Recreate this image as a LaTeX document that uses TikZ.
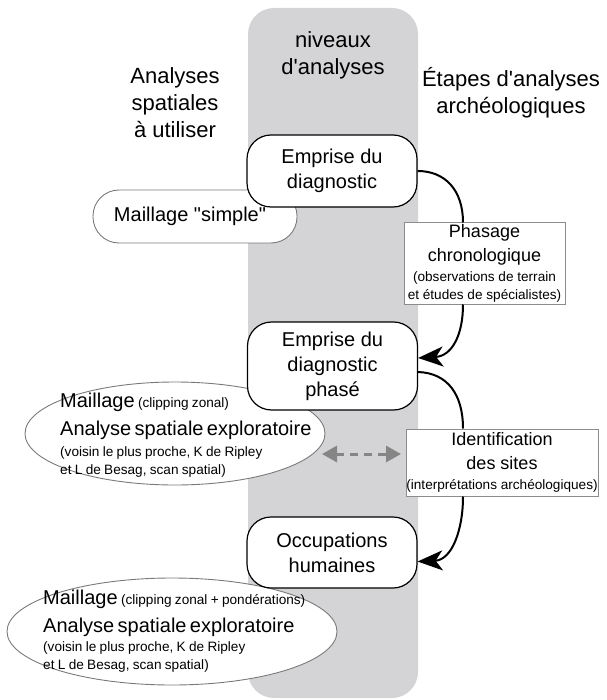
\documentclass[tikz,border=0pt]{standalone}
\usepackage{fontspec}
\setmainfont{Liberation Sans}[Ligatures=TeXOff]
\usetikzlibrary{arrows.meta,shapes.geometric}
\setlength{\parindent}{0pt}
\definecolor{colgray}{HTML}{D4D4D6}
\definecolor{edgegray}{HTML}{7A7A7A}
\definecolor{boxgray}{HTML}{8C8C8C}
\definecolor{dashgray}{HTML}{858585}
\newcommand{\bigf}{\fontsize{20}{25}\selectfont}
\newcommand{\ellf}{\fontsize{20}{28}\selectfont}
\newcommand{\midf}{\fontsize{18}{23.5}\selectfont}
\newcommand{\smf}{\fontsize{13.6}{18}\selectfont}
\newcommand{\ttlf}{\fontsize{22}{27}\selectfont}
\newcommand{\ctr}{\leftskip=0pt plus 1fil\rightskip=0pt plus 1fil\parfillskip=0pt\spaceskip=0pt\xspaceskip=0pt\relax}
\newcommand{\lft}{\leftskip=0pt\rightskip=0pt plus 1fil\parfillskip=0pt\relax}
\begin{document}
\begin{tikzpicture}[x=1pt,y=-1pt,
  lvl/.style={draw=black,line width=1.2pt,fill=white,rounded corners=24pt,minimum width=170pt,align=center,font=\bigf,inner sep=0pt},
  mell/.style={ellipse,draw=edgegray,line width=0.9pt,fill=white,inner sep=0pt},
  stepbox/.style={draw=boxgray,line width=1pt,fill=white,inner sep=0pt},
  elltext/.style={anchor=west,inner sep=0pt,text width=290pt},
  flow/.style={line width=2pt,black},
  tip/.style={-{Stealth[length=25pt,width=20pt,inset=7pt]}},
  ttl/.style={align=center,font=\ttlf,inner sep=0pt},
  dasharrow/.style={dashgray,line width=3pt,dash pattern=on 8pt off 6pt,{Triangle[length=15pt,width=16pt]}-{Triangle[length=15pt,width=16pt]}}
]
\useasboundingbox (0,0) rectangle (606,700);
\node[fill=colgray,rounded corners=26pt,minimum width=170pt,minimum height=690pt,inner sep=0pt] (col) at (333,353) {};

\node[ttl] (tniv) at (333,55) {niveaux\\d'analyses};
\node[ttl] (tana) at (175,103) {Analyses\\spatiales\\à utiliser};
\node[ttl] (teta) at (511,93) {Étapes d'analyses\\archéologiques};

\node[mell,minimum width=300pt,minimum height=103pt] (me2) at (175,433.5) {};
\node[mell,minimum width=330pt,minimum height=107pt] (me3) at (172,631.5) {};
\node[draw=edgegray,line width=0.9pt,fill=white,rounded corners=26pt,minimum width=204pt,minimum height=53pt,font=\bigf,inner sep=0pt] (me1) at (195,216.5) {\hspace*{-10pt}Maillage "simple"};

\node[elltext] (me2t) at (60,435) {\lft{\ellf Maillage {\smf (clipping zonal)}\par Analyse spatiale exploratoire\par}\vspace{2.5pt}{\smf (voisin le plus proche, K de Ripley\par et L de Besag, scan spatial)\par}};
\node[elltext] (me3t) at (43,631) {\lft{\ellf Maillage {\smf (clipping zonal + pondérations)}\par Analyse spatiale exploratoire\par}\vspace{1.5pt}{\smf (voisin le plus proche, K de Ripley\par et L de Besag, scan spatial)\par}};

\node[lvl,minimum height=72pt] (ed) at (332,171) {Emprise du\\diagnostic};
\node[lvl,minimum height=88pt] (edp) at (332.5,366) {Emprise du\\diagnostic\\phasé};
\node[lvl,minimum height=71pt] (occ) at (332,552.5) {Occupations\\humaines};

\node[stepbox,minimum width=161pt,minimum height=81pt,text width=161pt] (ph) at (484.5,263.5) {\ctr{\midf Phasage\par chronologique\par}\vspace{2pt}{\smf (observations de terrain\par et études de spécialistes)\par}};
\node[stepbox,minimum width=192pt,minimum height=67pt,text width=192pt] (idb) at (502,462.5) {\ctr{\midf Identification\par des sites\par}\vspace{2pt}{\smf (interprétations archéologiques)\par}};

\coordinate (cx) at (463,0);
\draw[flow] (ed.east) .. controls (445,171) and (463,190) .. (ph.north -| cx);
\draw[flow,tip] (ph.south -| cx) .. controls (463,335) and (452,356) .. ([yshift=8pt]edp.east);
\draw[flow] ([yshift=-6pt]edp.east) .. controls (448,373) and (463,395) .. (idb.north -| cx);
\draw[flow,tip] (idb.south -| cx) .. controls (463,530) and (452,560) .. ([yshift=-9pt]occ.east);

\coordinate (dl) at (322,454);
\coordinate (dr) at (401,454);
\draw[dasharrow] (dl) -- (dr);
\end{tikzpicture}
\end{document}
